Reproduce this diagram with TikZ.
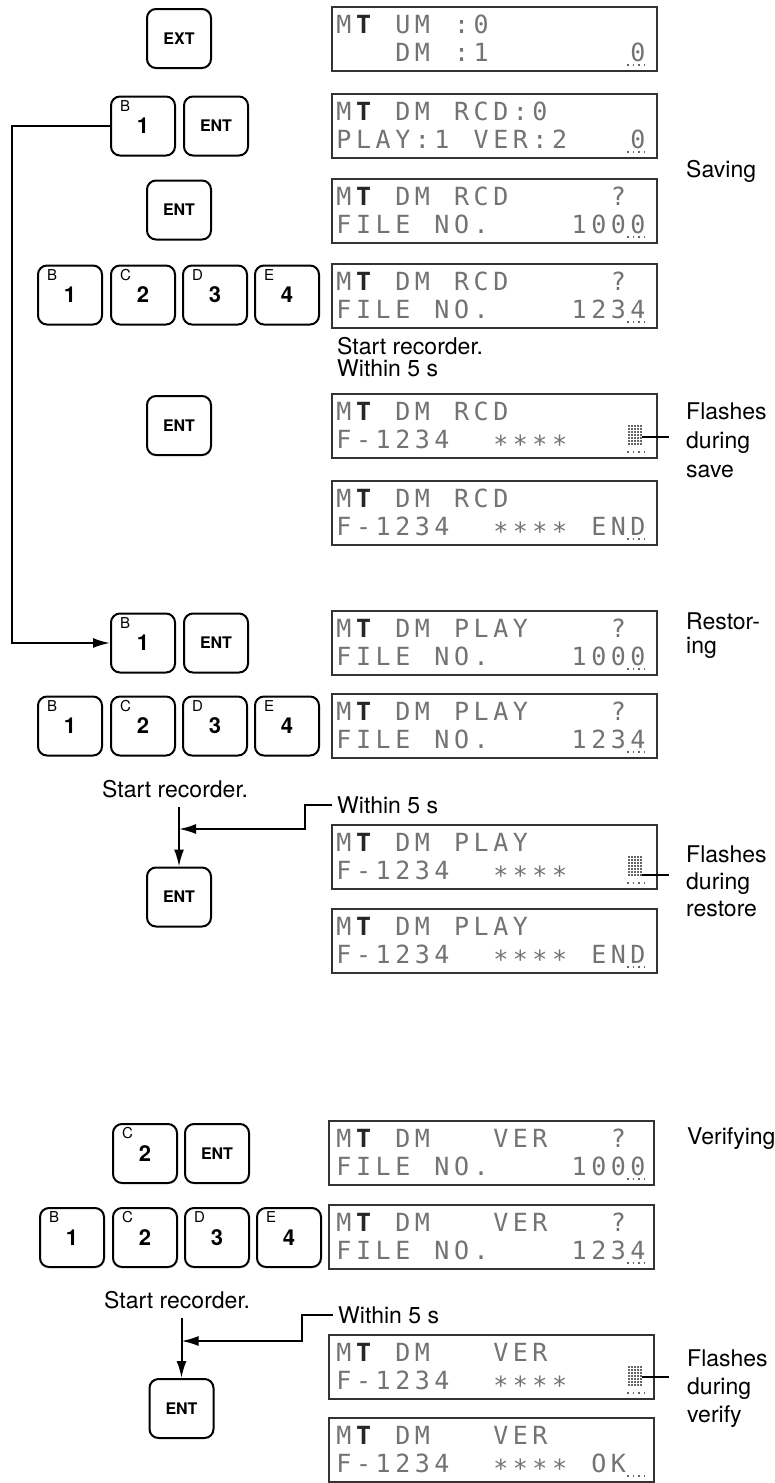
\documentclass[tikz,border=0pt]{standalone}
\usepackage{fontspec}
\setmainfont{TeX Gyre Heros}
\newfontfamily\lcdfont{DejaVu Sans Mono}
\usetikzlibrary{arrows.meta,calc}

\def\lcdend{LCDEND}
\newcommand\lcdcell[1]{\makebox[19.6pt][c]{#1}}
\def\lcdloop#1{\ifx\lcdend#1\else\lcdcell{#1}\expandafter\lcdloop\fi}
\newcommand\lcd[1]{\lcdloop#1\lcdend}
\newcommand\lcdstar{\raisebox{-5pt}{*}}
\newcommand\lcdT{{\bfseries\color{black!85}T}}

\tikzset{
 key/.style={draw=black, line width=2pt, rounded corners=9pt, minimum width=64pt, minimum height=59pt, inner sep=0pt},
 keyword/.style={font=\bfseries\fontsize{16}{16}\selectfont},
 keynum/.style={font=\bfseries\fontsize{22}{22}\selectfont},
 keylet/.style={font=\fontsize{15}{15}\selectfont, inner sep=0pt, anchor=north west},
 disp/.style={draw=black!80, line width=2pt, minimum width=325pt, minimum height=64pt, inner sep=0pt, anchor=north west},
 lcdtxt/.style={font=\lcdfont\fontsize{25}{25}\selectfont, text=black!55, inner sep=0pt, anchor=base west},
 lcddot/.style={fill=black!60},
 lbl/.style={font=\fontsize{23}{28}\selectfont, inner sep=0pt, anchor=base west},
 conn/.style={line width=2pt},
 arr/.style={conn, -{Latex[length=17pt,width=10pt]}},
}

% name, left, top, row1, row2
\newcommand\lcdpanel[5]{%
  \node[disp] (#1) at ({#2+1},{#3+1}) {};
  \node[lcdtxt] (#1-r1) at (334,{#3+28}) {\lcd{#4}};
  \node[lcdtxt] (#1-r2) at (334,{#3+56}) {\lcd{#5}};
  \foreach \i in {0,...,3} \fill[lcddot] ({627+5.5*\i},{#3+59}) rectangle ++(1.8,1.8);
}
% top of display
\newcommand\lcdblock[1]{%
  \foreach \i in {0,...,4}{\foreach \j in {0,...,6}{\fill[lcddot] ({628+3*\i},{#1+33+3*\j}) rectangle ++(1.8,1.8);}}
}
% name, x, y, letter, digit
\newcommand\numkey[5]{%
  \node[key, keynum] (#1) at (#2,#3) {#5};
  \node[keylet] (#1-l) at ($(#1.center)+(-23,-26)$) {#4};
}

\begin{document}
\begin{tikzpicture}[x=1pt, y=-1pt]
\fill[white] (0,0) rectangle (774,1483);
\useasboundingbox (0,0) rectangle (774,1483);

% ---------- keys ----------
\node[key, keyword] (k1) at (179,38.5) {EXT};
\numkey{k2a}{143}{126}{B}{1}
\node[key, keyword] (k2b) at (216,126) {ENT};
\node[key, keyword] (k3) at (179,210) {ENT};
\numkey{k4a}{70}{295}{B}{1}
\numkey{k4b}{143}{295}{C}{2}
\numkey{k4c}{215}{295}{D}{3}
\numkey{k4d}{287}{295}{E}{4}
\node[key, keyword] (k5) at (179,425.5) {ENT};
\numkey{k7a}{143}{643}{B}{1}
\node[key, keyword] (k7b) at (216,643) {ENT};
\numkey{k8a}{70}{726}{B}{1}
\numkey{k8b}{143}{726}{C}{2}
\numkey{k8c}{215}{726}{D}{3}
\numkey{k8d}{287}{726}{E}{4}
\node[key, keyword] (k9) at (179,897) {ENT};
\numkey{k11a}{145}{1153.5}{C}{2}
\node[key, keyword] (k11b) at (217,1153.5) {ENT};
\numkey{k12a}{72}{1237.5}{B}{1}
\numkey{k12b}{145}{1237.5}{C}{2}
\numkey{k12c}{217}{1237.5}{D}{3}
\numkey{k12d}{289}{1237.5}{E}{4}
\node[key, keyword] (k13) at (181.5,1408.5) {ENT};

% ---------- displays ----------
\lcdpanel{d1}{330}{5}{M\lcdT~UM~:0}{~~~DM~:1~~~~~~~0}
\lcdpanel{d2}{330}{92}{M\lcdT~DM~RCD:0}{PLAY:1~VER:2~~~0}
\lcdpanel{d3}{330}{177}{M\lcdT~DM~RCD~~~~~?}{FILE~NO.~~~~1000}
\lcdpanel{d4}{330}{262}{M\lcdT~DM~RCD~~~~~?}{FILE~NO.~~~~1234}
\lcdpanel{d5}{330}{392}{M\lcdT~DM~RCD}{F-1234~~\lcdstar\lcdstar\lcdstar\lcdstar}
\lcdblock{392}
\lcdpanel{d6}{330}{479}{M\lcdT~DM~RCD}{F-1234~~\lcdstar\lcdstar\lcdstar\lcdstar~END}
\lcdpanel{d7}{330}{609}{M\lcdT~DM~PLAY~~~~?}{FILE~NO.~~~~1000}
\lcdpanel{d8}{330}{692}{M\lcdT~DM~PLAY~~~~?}{FILE~NO.~~~~1234}
\lcdpanel{d9}{330}{823}{M\lcdT~DM~PLAY}{F-1234~~\lcdstar\lcdstar\lcdstar\lcdstar}
\lcdblock{823}
\lcdpanel{d10}{330}{907}{M\lcdT~DM~PLAY}{F-1234~~\lcdstar\lcdstar\lcdstar\lcdstar~END}
\lcdpanel{d11}{327}{1119}{M\lcdT~DM~~~VER~~~?}{FILE~NO.~~~~1000}
\lcdpanel{d12}{327}{1203}{M\lcdT~DM~~~VER~~~?}{FILE~NO.~~~~1234}
\lcdpanel{d13}{327}{1333}{M\lcdT~DM~~~VER}{F-1234~~\lcdstar\lcdstar\lcdstar\lcdstar}
\lcdblock{1333}
\lcdpanel{d14}{327}{1416}{M\lcdT~DM~~~VER}{F-1234~~\lcdstar\lcdstar\lcdstar\lcdstar~OK}

% ---------- labels ----------
\node[lbl] (sav) at (686,177) {Saving};
\node[lbl] (s1) at (337,354) {Start recorder.};
\node[lbl] (w1) at (337,376) {Within 5 s};
\node[lbl] (f1a) at (686,419) {Flashes};
\node[lbl] (f1b) at (686,448) {during};
\node[lbl] (f1c) at (686,477) {save};
\node[lbl] (res1) at (686,629) {Restor-};
\node[lbl] (res2) at (686,653) {ing};
\node[lbl] (s2) at (102,797) {Start recorder.};
\node[lbl] (w2) at (337,813) {Within 5 s};
\node[lbl] (f2a) at (686,862) {Flashes};
\node[lbl] (f2b) at (686,889) {during};
\node[lbl] (f2c) at (686,916) {restore};
\node[lbl] (ver) at (687,1144) {Verifying};
\node[lbl] (s3) at (104,1308) {Start recorder.};
\node[lbl] (w3) at (338,1323) {Within 5 s};
\node[lbl] (f3a) at (687,1366) {Flashes};
\node[lbl] (f3b) at (687,1394) {during};
\node[lbl] (f3c) at (687,1422) {verify};

% ---------- connectors ----------
\coordinate (lpa) at (12,126);
\coordinate (lpb) at (12,643);
\draw[arr] (k2a.west) -- (lpa) -- (lpb) -- (k7a.west);

\coordinate (v2) at (179,807);
\coordinate (j2) at (179,829);
\coordinate (b2) at (305,829);
\draw[arr] (v2) -- (k9.north);
\draw[arr] ([xshift=-5pt]w2.west) -| (b2) -- (j2);

\coordinate (v3) at (181.5,1318);
\coordinate (j3) at (181.5,1341);
\coordinate (b3) at (302,1341);
\draw[arr] (v3) -- (k13.north);
\draw[arr] ([xshift=-5pt]w3.west) -| (b3) -- (j3);

\coordinate (t5a) at (642,437);
\coordinate (t5b) at (669,437);
\draw[conn] (t5a) -- (t5b);
\coordinate (t9a) at (642,875);
\coordinate (t9b) at (669,875);
\draw[conn] (t9a) -- (t9b);
\coordinate (t13a) at (642,1377);
\coordinate (t13b) at (669,1377);
\draw[conn] (t13a) -- (t13b);
\end{tikzpicture}
\end{document}
